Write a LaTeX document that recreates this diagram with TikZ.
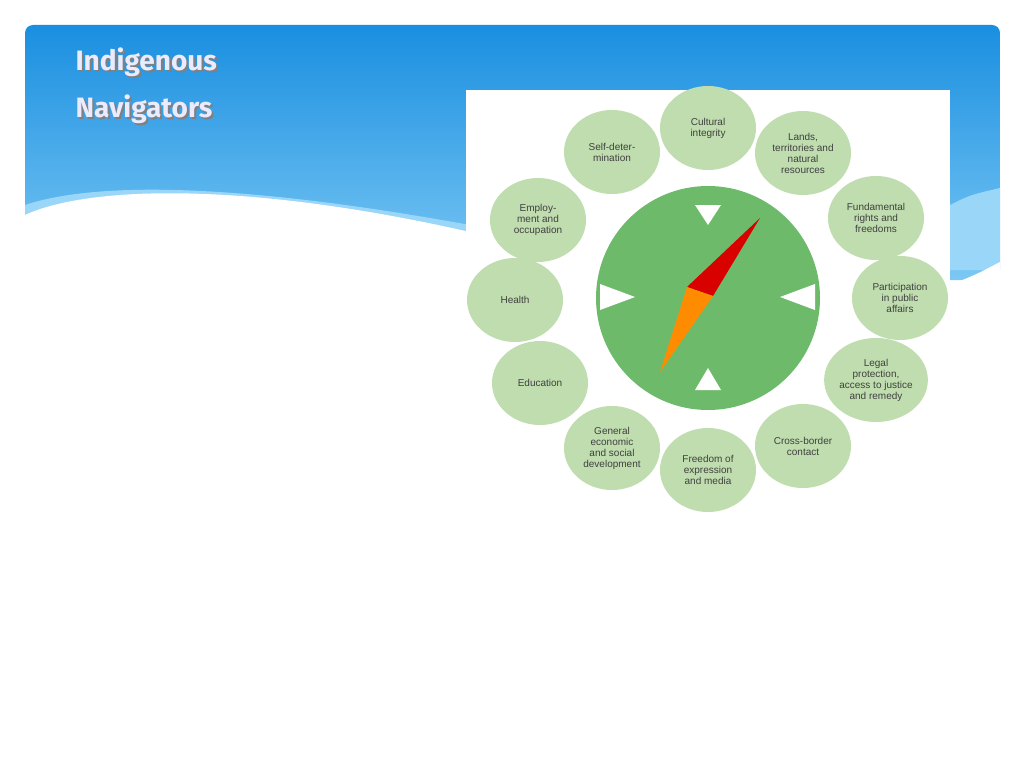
\documentclass[tikz,border=0pt]{standalone}
\usepackage{fontspec}
\setmainfont{Liberation Sans}
\newfontfamily\titlefont{Fira Sans}
\begin{document}
\begin{tikzpicture}[x=1pt,y=-1pt,
  oval/.style={ellipse,fill=green!30!lime!20!white,fill=oliveb,minimum width=96pt,minimum height=84pt,inner sep=0pt,align=center,font=\fontsize{10}{11}\selectfont,text=black!75},
  tri/.style={fill=white,draw=none}]
\usetikzlibrary{shapes.geometric}
\definecolor{oliveb}{HTML}{BFDDAE}
\definecolor{compassg}{HTML}{6DBB6A}
\definecolor{blueTop}{HTML}{1A8FE0}
\definecolor{blueBot}{HTML}{7CC8F4}
\definecolor{band}{HTML}{9AD6F8}
\useasboundingbox (0,0) rectangle (1024,768);
\fill[white] (0,0) rectangle (1024,768);
\shade[top color=blueTop,bottom color=blueBot,rounded corners=8pt] (25,25) rectangle (1000,280);
\fill[band] (25,205) .. controls (100,180) and (250,185) .. (470,225) -- (950,205) .. controls (970,195) .. (1000,188) -- (1000,270) -- (25,270) -- cycle;
\fill[white] (25,215) .. controls (90,185) and (250,182) .. (470,232) -- (950,285) .. controls (975,275) .. (1000,262) -- (1000,768) -- (25,768) -- cycle;
\node[anchor=west,font=\titlefont\bfseries\fontsize{28}{30}\selectfont,text=black!50] at (74,64) {Indigenous};
\node[anchor=west,font=\titlefont\bfseries\fontsize{28}{30}\selectfont,text=blue!8!white] at (72,62) {Indigenous};
\node[anchor=west,font=\titlefont\bfseries\fontsize{28}{30}\selectfont,text=black!50] at (74,111) {Navigators};
\node[anchor=west,font=\titlefont\bfseries\fontsize{28}{30}\selectfont,text=blue!8!white] at (72,109) {Navigators};
\fill[white] (466,90) rectangle (950,510);
\node[oval] (c1) at (708,128) {Cultural\\integrity};
\node[oval] (c2) at (803,153) {Lands,\\territories and\\natural\\resources};
\node[oval] (c3) at (876,218) {Fundamental\\rights and\\freedoms};
\node[oval] (c4) at (900,298) {Participation\\in public\\affairs};
\node[oval] (c5) at (876,380) {Legal\\protection,\\access to justice\\and remedy};
\node[oval] (c6) at (803,446) {Cross-border\\contact};
\node[oval] (c7) at (708,470) {Freedom of\\expression\\and media};
\node[oval] (c8) at (612,448) {General\\economic\\and social\\development};
\node[oval] (c9) at (540,383) {Education};
\node[oval] (c10) at (515,300) {Health};
\node[oval] (c11) at (538,220) {Employ-\\ment and\\occupation};
\node[oval] (c12) at (612,152) {Self-deter-\\mination};
\node[circle,fill=compassg,minimum size=224pt] (comp) at (708,298) {};
\fill[tri] (695,205) -- (721,205) -- (708,225) -- cycle;
\fill[tri] (695,390) -- (721,390) -- (708,368) -- cycle;
\fill[tri] (600,284) -- (600,310) -- (635,297) -- cycle;
\fill[tri] (815,284) -- (815,310) -- (780,297) -- cycle;
\coordinate (piv) at (697,290);
\fill[red!85!black] (760,218) -- (687,287) -- (713,296) -- cycle;
\fill[orange!90!yellow] (660,372) -- (687,287) -- (713,296) -- cycle;
\end{tikzpicture}
\end{document}
